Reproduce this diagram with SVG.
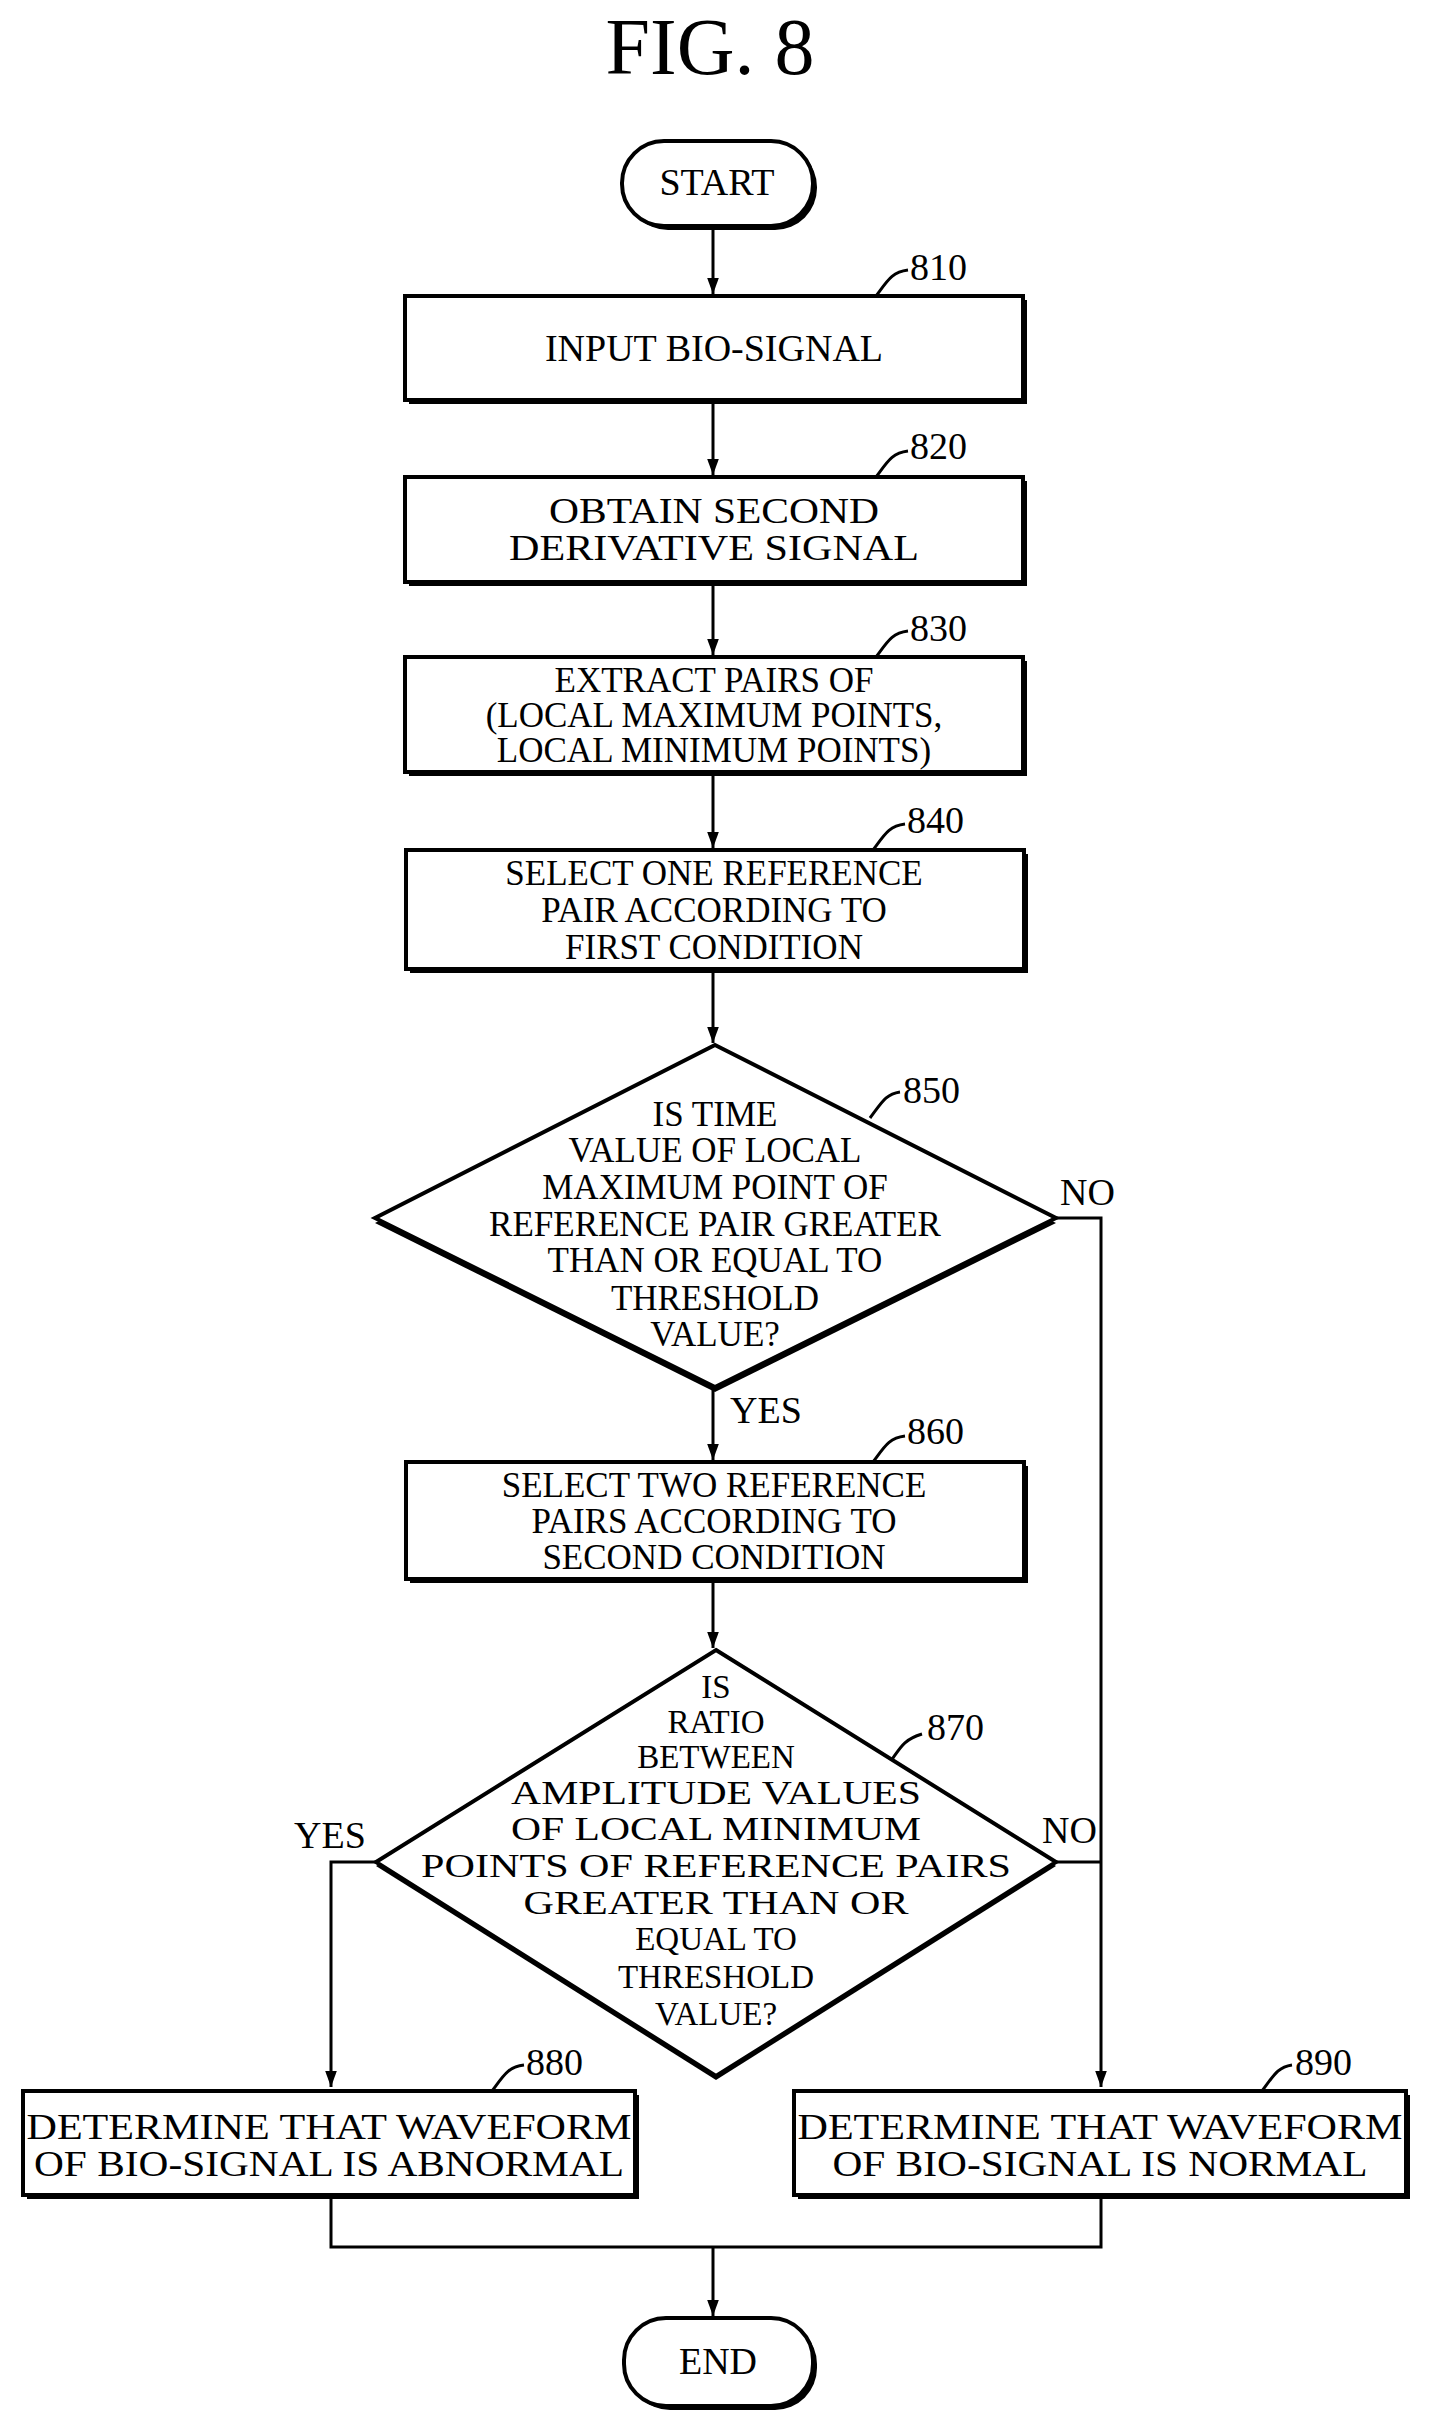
<svg xmlns="http://www.w3.org/2000/svg" width="1432" height="2424" viewBox="0 0 1432 2424">
<style>
text{font-family:"Liberation Serif","Times New Roman",serif;fill:#000}
.t{font-size:38px;text-anchor:middle}
.m{font-size:35px;text-anchor:middle}
.d{font-size:33px;text-anchor:middle}
.l{font-size:38px}
.box{fill:#fff;stroke:#000;stroke-width:4}
.sh{fill:#000}
.ln{fill:none;stroke:#000;stroke-width:3}
</style>
<defs>
<marker id="a" markerWidth="16" markerHeight="22" refX="22" refY="8" orient="auto" markerUnits="userSpaceOnUse" viewBox="0 0 22 16">
<path d="M0,0 L22,8 L0,16 Z"/>
</marker>
</defs>
<text x="710" y="74" style="font-size:80px;text-anchor:middle">FIG. 8</text>

<g id="connectors">
<line class="ln" x1="713" y1="226" x2="713" y2="294" marker-end="url(#a)"/>
<line class="ln" x1="713" y1="404" x2="713" y2="475" marker-end="url(#a)"/>
<line class="ln" x1="713" y1="586" x2="713" y2="655" marker-end="url(#a)"/>
<line class="ln" x1="713" y1="776" x2="713" y2="848" marker-end="url(#a)"/>
<line class="ln" x1="713" y1="973" x2="713" y2="1043" marker-end="url(#a)"/>
<line class="ln" x1="713" y1="1390" x2="713" y2="1460" marker-end="url(#a)"/>
<line class="ln" x1="713" y1="1583" x2="713" y2="1648" marker-end="url(#a)"/>
<polyline class="ln" points="1056,1218 1101,1218 1101,2087" marker-end="url(#a)"/>
<polyline class="ln" points="1056,1862 1101,1862"/>
<polyline class="ln" points="376,1862 331,1862 331,2087" marker-end="url(#a)"/>
<polyline class="ln" points="331,2195 331,2247 1101,2247 1101,2195"/>
<line class="ln" x1="713" y1="2247" x2="713" y2="2316" marker-end="url(#a)"/>
<path class="ln" d="M876,296 C888,280 892,272 908,270"/>
<path class="ln" d="M876,477 C888,461 892,453 908,451"/>
<path class="ln" d="M876,657 C888,641 892,633 908,631"/>
<path class="ln" d="M873,850 C885,834 889,826 905,824"/>
<path class="ln" d="M870,1118 C882,1102 886,1094 900,1092"/>
<path class="ln" d="M873,1462 C885,1446 889,1438 905,1436"/>
<path class="ln" d="M888,1765 C900,1749 902,1740 922,1734"/>
<path class="ln" d="M492,2091 C504,2075 508,2067 524,2065"/>
<path class="ln" d="M1262,2091 C1274,2075 1278,2067 1292,2065"/>
</g>

<g id="start">
<rect x="626" y="145" width="191" height="85" rx="42" class="sh"/>
<rect x="622" y="141" width="191" height="85" rx="42" class="box"/>
<text class="t" x="717" y="195">START</text>
</g>
<g id="n810">
<rect x="409" y="300" width="618" height="104" class="sh"/>
<rect x="405" y="296" width="618" height="104" class="box"/>
<text class="t" x="714" y="361">INPUT BIO-SIGNAL</text>
<text class="l" x="910" y="280">810</text>
</g>
<g id="n820">
<rect x="409" y="481" width="618" height="105" class="sh"/>
<rect x="405" y="477" width="618" height="105" class="box"/>
<text class="m" x="714" y="523" textLength="330" lengthAdjust="spacingAndGlyphs">OBTAIN SECOND</text>
<text class="m" x="714" y="560" textLength="410" lengthAdjust="spacingAndGlyphs">DERIVATIVE SIGNAL</text>
<text class="l" x="910" y="459">820</text>
</g>
<g id="n830">
<rect x="409" y="661" width="618" height="115" class="sh"/>
<rect x="405" y="657" width="618" height="115" class="box"/>
<text class="m" x="714" y="692">EXTRACT PAIRS OF</text>
<text class="m" x="714" y="727">(LOCAL MAXIMUM POINTS,</text>
<text class="m" x="714" y="762">LOCAL MINIMUM POINTS)</text>
<text class="l" x="910" y="641">830</text>
</g>
<g id="n840">
<rect x="410" y="854" width="618" height="119" class="sh"/>
<rect x="406" y="850" width="618" height="119" class="box"/>
<text class="m" x="714" y="885">SELECT ONE REFERENCE</text>
<text class="m" x="714" y="922">PAIR ACCORDING TO</text>
<text class="m" x="714" y="959">FIRST CONDITION</text>
<text class="l" x="907" y="833">840</text>
</g>
<g id="n850">
<polygon points="715,1050 1056,1223 715,1392 375,1223" class="sh"/>
<polygon points="715,1045 1056,1218 715,1387 375,1218" class="box" stroke-width="3"/>
<text class="m" x="715" y="1126">IS TIME</text>
<text class="m" x="715" y="1162">VALUE OF LOCAL</text>
<text class="m" x="715" y="1199">MAXIMUM POINT OF</text>
<text class="m" x="715" y="1236">REFERENCE PAIR GREATER</text>
<text class="m" x="715" y="1272">THAN OR EQUAL TO</text>
<text class="m" x="715" y="1310">THRESHOLD</text>
<text class="m" x="715" y="1346">VALUE?</text>
<text class="l" x="903" y="1103">850</text>
<text class="l" x="1060" y="1205">NO</text>
<text class="l" x="730" y="1423">YES</text>
</g>
<g id="n860">
<rect x="410" y="1466" width="618" height="117" class="sh"/>
<rect x="406" y="1462" width="618" height="117" class="box"/>
<text class="m" x="714" y="1497">SELECT TWO REFERENCE</text>
<text class="m" x="714" y="1533">PAIRS ACCORDING TO</text>
<text class="m" x="714" y="1569">SECOND CONDITION</text>
<text class="l" x="907" y="1444">860</text>
</g>
<g id="n870">
<polygon points="716,1654 1056,1866 716,2080 376,1866" class="sh"/>
<polygon points="716,1650 1056,1862 716,2076 376,1862" class="box" stroke-width="3"/>
<text class="d" x="716" y="1698">IS</text>
<text class="d" x="716" y="1733">RATIO</text>
<text class="d" x="716" y="1768">BETWEEN</text>
<text class="d" x="716" y="1804" textLength="410" lengthAdjust="spacingAndGlyphs">AMPLITUDE VALUES</text>
<text class="d" x="716" y="1840" textLength="410" lengthAdjust="spacingAndGlyphs">OF LOCAL MINIMUM</text>
<text class="d" x="716" y="1877" textLength="590" lengthAdjust="spacingAndGlyphs">POINTS OF REFERENCE PAIRS</text>
<text class="d" x="716" y="1914" textLength="385" lengthAdjust="spacingAndGlyphs">GREATER THAN OR</text>
<text class="d" x="716" y="1950">EQUAL TO</text>
<text class="d" x="716" y="1988">THRESHOLD</text>
<text class="d" x="716" y="2025">VALUE?</text>
<text class="l" x="927" y="1740">870</text>
<text class="l" x="294" y="1848">YES</text>
<text class="l" x="1042" y="1843">NO</text>
</g>
<g id="n880">
<rect x="27" y="2095" width="612" height="104" class="sh"/>
<rect x="23" y="2091" width="612" height="104" class="box"/>
<text class="m" x="329" y="2139" textLength="605" lengthAdjust="spacingAndGlyphs">DETERMINE THAT WAVEFORM</text>
<text class="m" x="329" y="2176" textLength="590" lengthAdjust="spacingAndGlyphs">OF BIO-SIGNAL IS ABNORMAL</text>
<text class="l" x="526" y="2075">880</text>
</g>
<g id="n890">
<rect x="798" y="2095" width="612" height="104" class="sh"/>
<rect x="794" y="2091" width="612" height="104" class="box"/>
<text class="m" x="1100" y="2139" textLength="605" lengthAdjust="spacingAndGlyphs">DETERMINE THAT WAVEFORM</text>
<text class="m" x="1100" y="2176" textLength="535" lengthAdjust="spacingAndGlyphs">OF BIO-SIGNAL IS NORMAL</text>
<text class="l" x="1295" y="2075">890</text>
</g>
<g id="end">
<rect x="628" y="2322" width="189" height="88" rx="42" class="sh"/>
<rect x="624" y="2318" width="189" height="88" rx="42" class="box"/>
<text class="t" x="718" y="2374">END</text>
</g>
</svg>
